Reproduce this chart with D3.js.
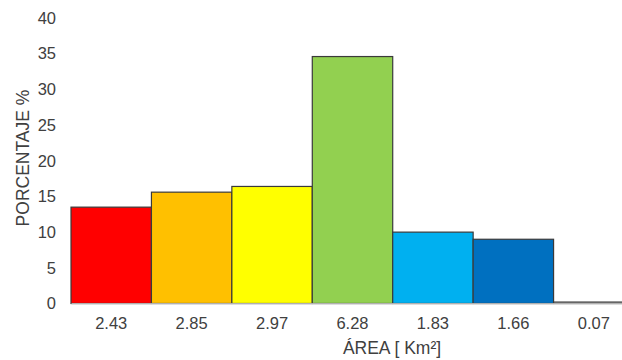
<!DOCTYPE html>
<html>
<head>
<meta charset="utf-8">
<script src="https://cdn.jsdelivr.net/npm/d3@7"></script>
<style>
  body { margin: 0; background: #fff; }
  svg { display: block; font-family: "Liberation Sans", Arial, sans-serif; }
</style>
</head>
<body>
<div id="viz"></div>
<script>
// chart data
var categories = ["2.43", "2.85", "2.97", "6.28", "1.83", "1.66", "0.07"];
var values = [13.5, 15.6, 16.4, 34.6, 10.0, 9.0, 0.2];
var colors = ["#FF0000", "#FFC000", "#FFFF00", "#92D050", "#00B0F0", "#0070C0", "#FFFFFF"];
var yTicks = [0, 5, 10, 15, 20, 25, 30, 35, 40];

var margin = {top: 18, right: -12, bottom: 56.5, left: 71},
    width = 622 - margin.left - margin.right,
    height = 360 - margin.top - margin.bottom;

var svg = d3.select('#viz').append('svg')
    .attr("width", 622)
    .attr("height", 360);

var g = svg.append("g")
    .attr("transform", "translate(" + margin.left + "," + margin.top + ")");

var x = d3.scaleBand()
    .domain(categories)
    .range([0, width])
    .padding(0);

var y = d3.scaleLinear()
    .domain([0, 40])
    .range([height, 0]);

// bars
g.selectAll('rect')
    .data(values)
    .enter().append('rect')
        .attr('x', function(d, i) { return x(categories[i]); })
        .attr('y', function(d) { return y(d); })
        .attr('width', x.bandwidth())
        .attr('height', function(d) { return height - y(d); })
        .attr('fill', function(d, i) { return colors[i]; })
        .attr('stroke', "#3a3a3a")
        .attr('stroke-width', 1.2);

// x axis
var xAxis = g.append('g')
    .attr("class", "axis x")
    .attr("transform", "translate(0," + height + ")")
    .call(d3.axisBottom(x).tickSize(0).tickPadding(14));
xAxis.select(".domain").attr("stroke", "#d9d9d9").attr("stroke-width", 1.5);
xAxis.selectAll("text")
    .attr("fill", "#404040")
    .style("font-size", "16.5px");

// y axis
var yAxis = g.append('g')
    .attr("class", "axis y")
    .call(d3.axisLeft(y).tickValues(yTicks).tickSize(0).tickPadding(15));
yAxis.select(".domain").remove();
yAxis.selectAll("text")
    .attr("fill", "#404040")
    .style("font-size", "16.5px");

// axis titles
svg.append("text")
    .attr("transform", "translate(392,348)")
    .style("text-anchor", "middle")
    .attr("dy", "0.35em")
    .style("font-size", "17.5px")
    .attr("fill", "#404040")
    .text("ÁREA [ Km²]");

svg.append("text")
    .attr("transform", "translate(23,158) rotate(-90)")
    .style("text-anchor", "middle")
    .attr("dy", "0.35em")
    .style("font-size", "17.5px")
    .attr("fill", "#404040")
    .text("PORCENTAJE %");
</script>
</body>
</html>
